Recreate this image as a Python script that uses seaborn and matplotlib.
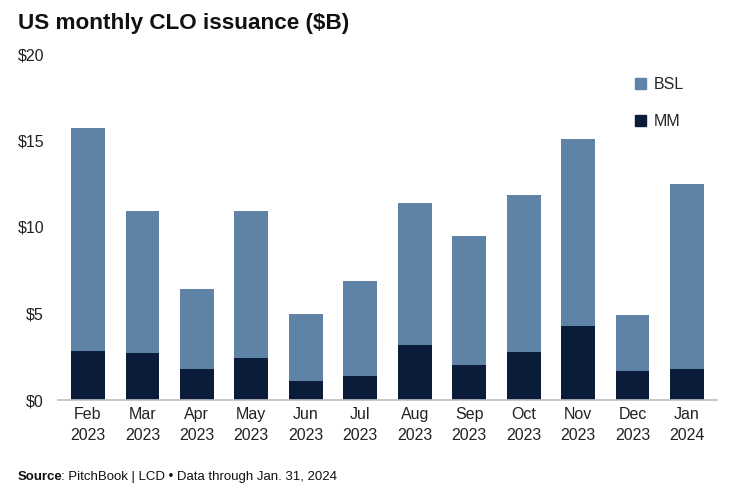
import matplotlib
matplotlib.use("Agg")
import matplotlib.pyplot as plt
import seaborn as sns
import pandas as pd
from matplotlib.patches import Patch

months = ["Feb\n2023", "Mar\n2023", "Apr\n2023", "May\n2023", "Jun\n2023", "Jul\n2023",
          "Aug\n2023", "Sep\n2023", "Oct\n2023", "Nov\n2023", "Dec\n2023", "Jan\n2024"]
total = [15.7, 10.9, 6.4, 10.9, 5.0, 6.9, 11.4, 9.5, 11.85, 15.1, 4.9, 12.5]
mm = [2.85, 2.7, 1.8, 2.4, 1.1, 1.4, 3.2, 2.0, 2.8, 4.3, 1.7, 1.8]
y_ticks = [0, 5, 10, 15, 20]
y_labels = ["$0", "$5", "$10", "$15", "$20"]

bsl_color = "#5f83a6"
mm_color = "#0a1c3a"

sns.set_theme(style="white")
plt.rcParams['font.family'] = ['Liberation Sans', 'DejaVu Sans']

df = pd.DataFrame({"month": months, "total": total, "mm": mm})

fig = plt.figure(figsize=(7.51, 4.99), dpi=100)
ax = fig.add_axes([58/751, 1 - 400/499, (717-58)/751, (400-54)/499])

sns.barplot(data=df, x="month", y="total", color=bsl_color, width=0.62, ax=ax,
            saturation=1, edgecolor="none")
sns.barplot(data=df, x="month", y="mm", color=mm_color, width=0.62, ax=ax,
            saturation=1, edgecolor="none")

ax.set_ylim(0, 20)
ax.set_xlim(-0.55, 11.55)
ax.set_yticks(y_ticks)
ax.set_yticklabels(y_labels, fontsize=11.5, color="#222222")
ax.tick_params(axis="x", labelsize=11.5, colors="#222222", length=0, pad=5)
for lab in ax.get_xticklabels():
    lab.set_linespacing(1.5)
ax.tick_params(axis="y", length=0, pad=10)
ax.set_xlabel("")
ax.set_ylabel("")
for s in ["top", "right", "left"]:
    ax.spines[s].set_visible(False)
ax.spines["bottom"].set_color("#bfbfbf")
ax.spines["bottom"].set_linewidth(1.2)

handles = [Patch(color=bsl_color, label="BSL"), Patch(color=mm_color, label="MM")]
leg = ax.legend(handles=handles, loc="upper left", bbox_to_anchor=(0.853, 0.975),
                frameon=False, fontsize=11.5, handlelength=0.7, handleheight=0.7,
                handletextpad=0.5, labelspacing=1.4)

fig.text(18/751, 1 - 24/499, "US monthly CLO issuance ($B)", fontsize=16.2,
         fontweight="bold", color="#111111", va="center", ha="left")
t1 = fig.text(18/751, 1 - 477/499, "Source", fontsize=9.5, fontweight="bold",
              color="#111111", va="center", ha="left")
fig.canvas.draw()
bb = t1.get_window_extent()
fig.text((bb.x1 - 2) / 751, 1 - 477/499, ": PitchBook | LCD \u2022 Data through Jan. 31, 2024",
         fontsize=9.5, color="#111111", va="center", ha="left")

fig.savefig("out.png", dpi=100)
